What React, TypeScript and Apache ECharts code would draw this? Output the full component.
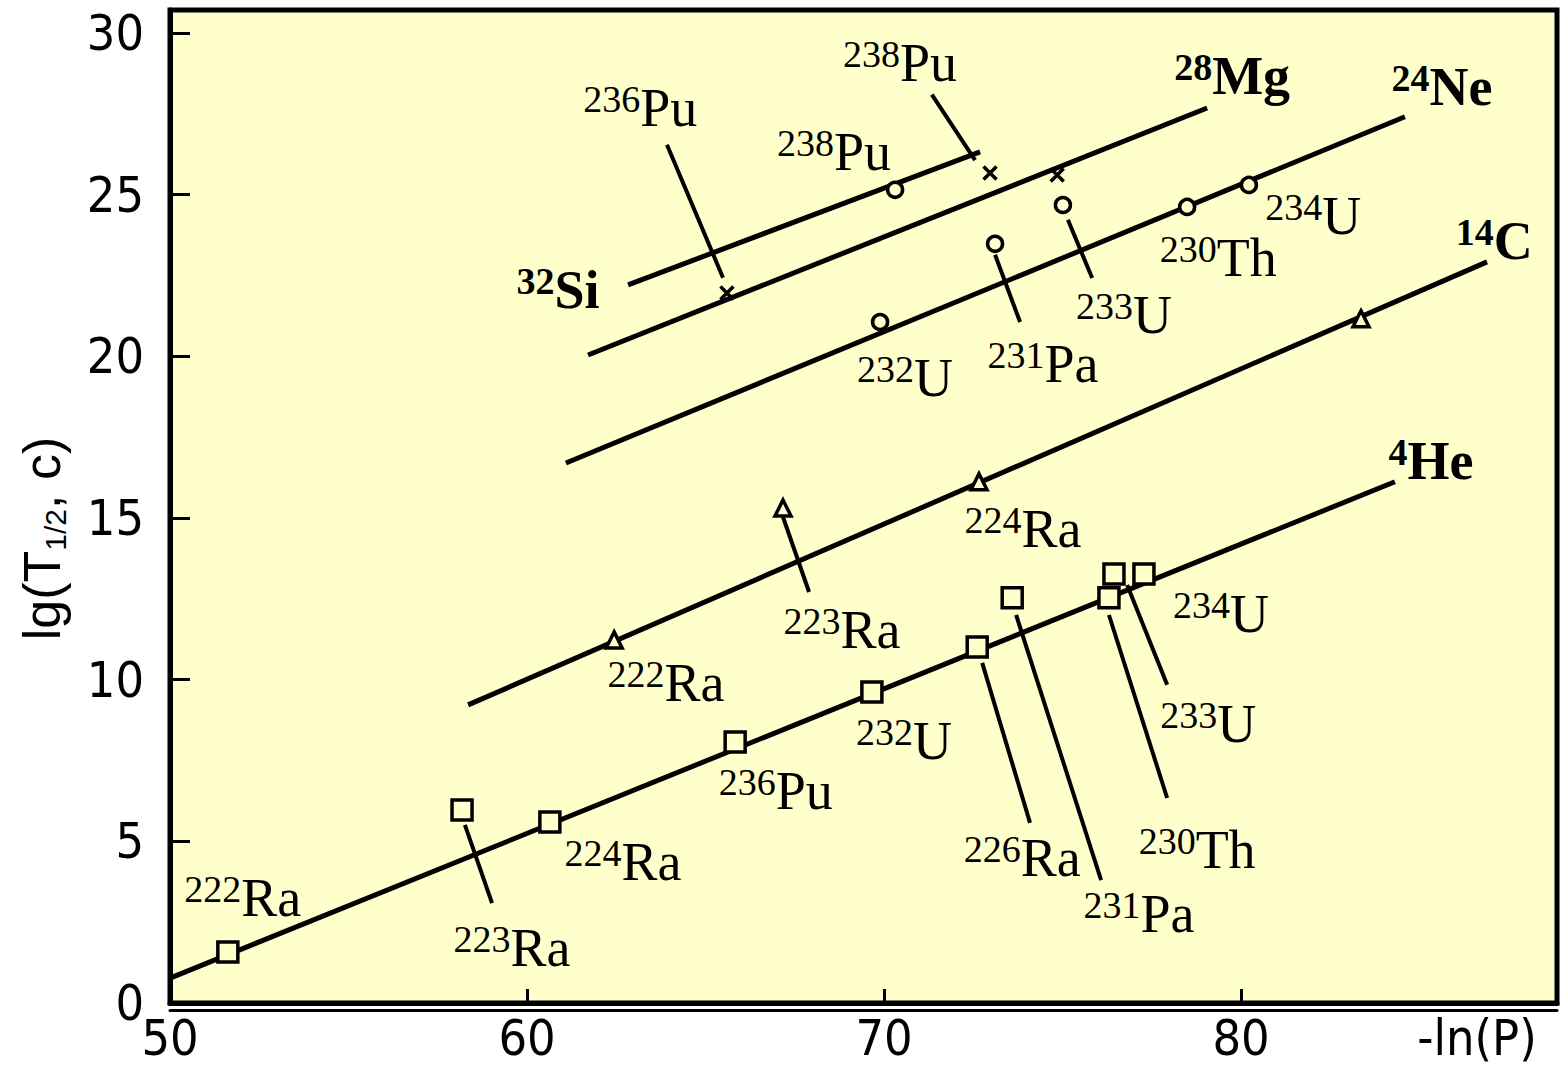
import React, { useEffect, useRef } from 'react';
import * as echarts from 'echarts';

// ---- axes ----
const xTicks = [50, 60, 70, 80];
const yTicks = [0, 5, 10, 15, 20, 25, 30];
const X_MIN = 50;
const X_MAX = 88.85;
const Y_MIN = 0;
const Y_MAX = 30.71;

// ---- fitted systematics lines (start / end points) ----
const fitLineNames = ['4He', '14C', '24Ne', '28Mg', '32Si'];
const fitLineStart = [[50.0, 0.77], [58.35, 9.22], [61.09, 16.7], [61.71, 20.04], [62.83, 22.21]];
const fitLineEnd = [[84.31, 16.12], [86.89, 22.92], [84.59, 27.41], [79.05, 27.68], [72.69, 26.32]];

// ---- 4He decay (squares) ----
const heNuclei = ['222Ra', '223Ra', '224Ra', '236Pu', '232U', '226Ra', '231Pa', '230Th', '233U', '234U'];
const heX = [51.62, 58.18, 60.64, 65.83, 69.66, 72.61, 73.59, 76.3, 76.44, 77.28];
const heY = [1.58, 5.97, 5.6, 8.07, 9.62, 11.01, 12.53, 12.53, 13.27, 13.27];
const heLabelX = [52.04, 59.58, 62.69, 66.97, 70.56, 73.87, 77.14, 78.77, 79.08, 79.44];
const heLabelY = [3.25, 1.7, 4.36, 6.56, 8.1, 4.49, 2.75, 4.73, 8.63, 12.03];

// ---- 14C decay (triangles) ----
const cNuclei = ['222Ra', '223Ra', '224Ra'];
const cX = [62.44, 67.17, 72.66, 83.36];
const cY = [11.23, 15.31, 16.12, 21.16];
const cLabelX = [63.89, 68.82, 73.89];
const cLabelY = [9.9, 11.54, 14.66];

// ---- 24Ne decay (circles) ----
const neNuclei = ['232U', '231Pa', '233U', '230Th', '234U'];
const neX = [69.89, 73.11, 75.01, 78.49, 80.22];
const neY = [21.06, 23.48, 24.68, 24.62, 25.3];
const neLabelX = [70.59, 74.45, 76.72, 79.36, 82.02];
const neLabelY = [19.33, 19.76, 21.28, 23.04, 24.34];

// ---- 28Mg / 32Si decay ----
const siCircleX = [70.31];
const siCircleY = [25.15];
const mgCrossX = [65.6, 72.97, 74.85];
const mgCrossY = [21.96, 25.67, 25.61];
const puNuclei = ['236Pu', '238Pu', '238Pu'];
const puLabelX = [63.17, 68.6, 70.45];
const puLabelY = [27.68, 26.32, 29.07];

// ---- cluster labels ----
const clusterLabels = ['4He', '14C', '24Ne', '28Mg', '32Si'];
const clusterLabelX = [85.32, 87.09, 85.63, 79.75, 60.87];
const clusterLabelY = [16.76, 23.57, 28.33, 28.67, 22.05];

// ---- leader lines ----
const leaderFrom = [
  [58.26, 5.51], [72.75, 10.52], [73.7, 12.0], [76.3, 12.0], [76.81, 12.93],
  [67.17, 15.03], [73.11, 23.14], [75.15, 24.22], [63.92, 26.54], [71.34, 28.09],
];
const leaderTo = [
  [59.02, 3.09], [74.09, 5.57], [76.08, 3.8], [77.93, 6.34], [77.93, 9.84],
  [67.9, 12.71], [73.81, 21.06], [75.83, 22.42], [65.49, 22.43], [72.55, 26.07],
];

const BG = '#FFFFCC';
const SANS = '"Liberation Sans Narrow", "DejaVu Sans Condensed", "Liberation Sans", sans-serif';
const SERIF = '"Liberation Serif", "DejaVu Serif", serif';

function zip(xs: number[], ys: number[]) {
  return xs.map((x, i) => [x, ys[i]]);
}

function labelData(names: string[], xs: number[], ys: number[]) {
  return names.map((n, i) => ({ name: n, value: [xs[i], ys[i]] }));
}

function nuclideFormatter(bold: boolean) {
  return (p: any) => {
    const m = String(p.name).match(/^(\d+)(.*)$/);
    if (!m) return p.name;
    return bold ? `{bm|${m[1]}}{bs|${m[2]}}` : `{m|${m[1]}}{s|${m[2]}}`;
  };
}

const rich = {
  m: { fontFamily: SERIF, fontSize: 38, lineHeight: 40, verticalAlign: 'top', color: '#000' },
  s: { fontFamily: SERIF, fontSize: 54, lineHeight: 56, verticalAlign: 'middle', color: '#000' },
  bm: { fontFamily: SERIF, fontSize: 38, fontWeight: 'bold', lineHeight: 40, verticalAlign: 'top', color: '#000' },
  bs: { fontFamily: SERIF, fontSize: 54, fontWeight: 'bold', lineHeight: 56, verticalAlign: 'middle', color: '#000' },
};

function labelSeries(names: string[], xs: number[], ys: number[], bold: boolean) {
  return {
    type: 'scatter',
    symbolSize: 1,
    itemStyle: { color: 'rgba(0,0,0,0)', opacity: 1 },
    silent: true,
    z: 5,
    label: {
      show: true,
      position: 'inside',
      align: 'center',
      verticalAlign: 'middle',
      color: '#000',
      opacity: 1,
      textBorderWidth: 0,
      formatter: nuclideFormatter(bold),
      rich,
    },
    data: labelData(names, xs, ys),
  };
}

const markerStyle = { color: BG, borderColor: '#000', borderWidth: 3.5, opacity: 1 };

const option: any = {
  animation: false,
  backgroundColor: '#FFFFFF',
  grid: {
    left: 170,
    top: 10,
    width: 1387,
    height: 993,
    show: true,
    backgroundColor: BG,
    borderColor: '#000',
    borderWidth: 5,
  },
  xAxis: [
    {
      type: 'value',
      min: X_MIN,
      max: X_MAX,
      interval: 10,
      axisLine: { show: true, lineStyle: { color: '#000', width: 5 } },
      axisTick: { show: true, inside: true, length: 14, lineStyle: { color: '#000', width: 3 } },
      axisLabel: {
        margin: 10,
        fontFamily: SANS,
        fontSize: 50,
        color: '#000',
        formatter: (v: number) => (xTicks.includes(v) ? String(v) : ''),
      },
      splitLine: { show: false },
      name: '-ln(P)',
      nameLocation: 'end',
      nameGap: -80,
      nameTextStyle: {
        fontFamily: SANS,
        fontSize: 50,
        color: '#000',
        align: 'center',
        verticalAlign: 'top',
        padding: [10, 0, 0, 0],
      },
    },
    {
      type: 'value',
      min: X_MIN,
      max: X_MAX,
      position: 'bottom',
      offset: 7,
      axisLine: { show: true, lineStyle: { color: '#000', width: 3 } },
      axisTick: { show: false },
      axisLabel: { show: false },
      splitLine: { show: false },
    },
  ],
  yAxis: {
    type: 'value',
    min: Y_MIN,
    max: Y_MAX,
    interval: 5,
    axisLine: { show: true, lineStyle: { color: '#000', width: 5 } },
    axisTick: { show: true, inside: true, length: 20, lineStyle: { color: '#000', width: 3 } },
    axisLabel: {
      margin: 26,
      fontFamily: SANS,
      fontSize: 50,
      color: '#000',
      formatter: (v: number) => (yTicks.includes(v) ? String(v) : ''),
    },
    splitLine: { show: false },
    name: '{a|lg(T}{b|1/2}{a|, c)}',
    nameLocation: 'middle',
    nameGap: 100,
    nameRotate: 90,
    nameTextStyle: {
      padding: [0, 64, 0, 0],
      rich: {
        a: { fontFamily: '"Liberation Sans", sans-serif', fontSize: 52, lineHeight: 56, color: '#000' },
        b: { fontFamily: '"Liberation Sans", sans-serif', fontSize: 30, lineHeight: 32, verticalAlign: 'bottom', color: '#000' },
      },
    },
  },
  series: [
    {
      type: 'lines',
      coordinateSystem: 'cartesian2d',
      z: 2,
      silent: true,
      lineStyle: { color: '#000', width: 5, opacity: 1 },
      data: fitLineNames.map((n, i) => ({ name: n, coords: [fitLineStart[i], fitLineEnd[i]] })),
    },
    {
      type: 'lines',
      coordinateSystem: 'cartesian2d',
      z: 2,
      silent: true,
      lineStyle: { color: '#000', width: 4, opacity: 1 },
      data: leaderFrom.map((f, i) => ({ coords: [f, leaderTo[i]] })),
    },
    {
      type: 'scatter',
      symbol: 'rect',
      symbolSize: 20,
      z: 3,
      itemStyle: markerStyle,
      data: zip(heX, heY),
    },
    {
      type: 'scatter',
      symbol: 'triangle',
      symbolSize: 16,
      z: 3,
      itemStyle: markerStyle,
      data: zip(cX, cY),
    },
    {
      type: 'scatter',
      symbol: 'circle',
      symbolSize: 15,
      z: 3,
      itemStyle: markerStyle,
      data: zip(neX, neY).concat(zip(siCircleX, siCircleY)),
    },
    {
      type: 'scatter',
      symbol: 'path://M0,0L10,10M10,0L0,10',
      symbolSize: 13,
      z: 3,
      itemStyle: { color: 'none', borderColor: '#000', borderWidth: 3.5, opacity: 1 },
      data: zip(mgCrossX, mgCrossY),
    },
    labelSeries(heNuclei, heLabelX, heLabelY, false),
    labelSeries(cNuclei, cLabelX, cLabelY, false),
    labelSeries(neNuclei, neLabelX, neLabelY, false),
    labelSeries(puNuclei, puLabelX, puLabelY, false),
    labelSeries(clusterLabels, clusterLabelX, clusterLabelY, true),
  ],
};

export default function App() {
  const ref = useRef<HTMLDivElement>(null);
  useEffect(() => {
    if (!ref.current) return;
    const chart = echarts.init(ref.current, null, { renderer: 'svg' });
    chart.setOption(option);
    return () => chart.dispose();
  }, []);
  return (
    <div
      ref={ref}
      style={{ position: 'fixed', left: 0, top: 0, width: 1562, height: 1079, background: '#fff' }}
    />
  );
}
